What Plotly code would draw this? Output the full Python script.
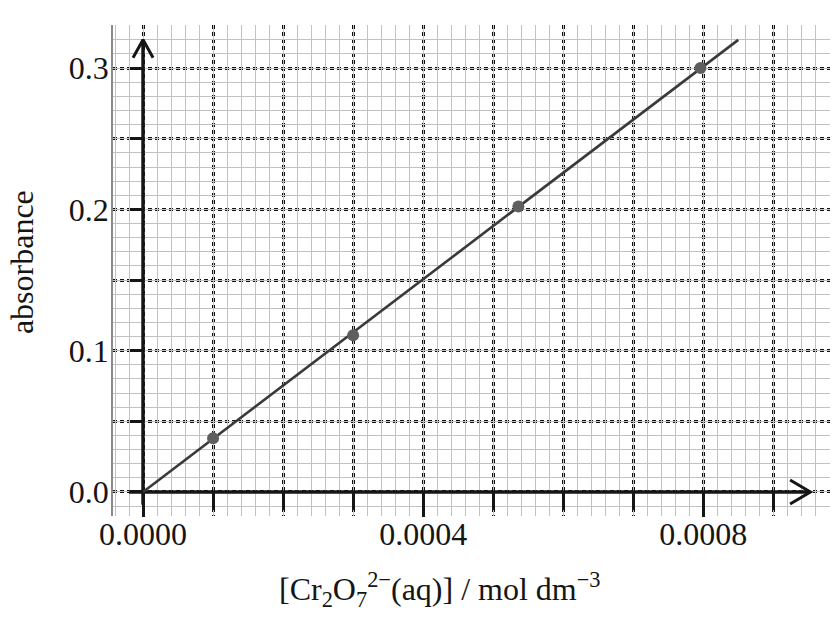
import plotly.graph_objects as go

# ---- data ----
conc = [0.0001, 0.0003, 0.000536, 0.000796]          # mol dm^-3
absorbance = [0.038, 0.111, 0.202, 0.300]
fit_conc = [0.0, 0.00085]                              # drawn best-fit line
fit_abs = [0.0, 0.32]

x_tick_vals = [0.0, 0.0004, 0.0008]
x_tick_text = ["0.0000", "0.0004", "0.0008"]
y_tick_vals = [0.0, 0.1, 0.2, 0.3]
y_tick_text = ["0.0", "0.1", "0.2", "0.3"]

x_title = "[Cr<sub>2</sub>O<sub>7</sub><sup>2\u2212</sup>(aq)] / mol dm<sup>\u22123</sup>"
y_title = "absorbance"

# ---- axis geometry ----
X_RANGE = [-0.0000429, 0.000981]
Y_RANGE = [-0.0170, 0.3305]
x_axis_span = [-0.00002, 0.000953]   # drawn arrow axis extents
y_axis_span = [-0.009, 0.320]

FONT = "Liberation Serif, Times New Roman, serif"
INK = "#151515"

fig = go.Figure()

# fine graph-paper grid via an overlaid axis pair (no visible data)
fig.add_trace(go.Scatter(x=[None], y=[None], xaxis="x2", yaxis="y2",
                         showlegend=False, hoverinfo="skip"))

# axes drawn as arrows
ax_x = x_axis_span
ax_y = y_axis_span
fig.add_trace(go.Scatter(x=ax_x, y=[0, 0], mode="lines",
                         line=dict(color=INK, width=3.5),
                         showlegend=False, hoverinfo="skip"))
fig.add_trace(go.Scatter(x=[0, 0], y=ax_y, mode="lines",
                         line=dict(color=INK, width=3.5),
                         showlegend=False, hoverinfo="skip"))
hx, hy = 0.000029, 0.0085
fig.add_trace(go.Scatter(x=[ax_x[1] - hx, ax_x[1], ax_x[1] - hx],
                         y=[hy, 0, -hy], mode="lines",
                         line=dict(color=INK, width=3),
                         showlegend=False, hoverinfo="skip"))
vx, vy = 0.0000143, 0.0127
fig.add_trace(go.Scatter(x=[-vx, 0, vx], y=[ax_y[1] - vy, ax_y[1], ax_y[1] - vy],
                         mode="lines", line=dict(color=INK, width=3),
                         showlegend=False, hoverinfo="skip"))

# best-fit line and points
fig.add_trace(go.Scatter(x=fit_conc, y=fit_abs, mode="lines",
                         line=dict(color="#3a3a3a", width=2.6),
                         showlegend=False))
fig.add_trace(go.Scatter(x=conc, y=absorbance, mode="markers",
                         marker=dict(color="#5e5e5e", size=12, symbol="circle"),
                         showlegend=False))

x_pos = (0 - Y_RANGE[0]) / (Y_RANGE[1] - Y_RANGE[0])
y_pos = (0 - X_RANGE[0]) / (X_RANGE[1] - X_RANGE[0])

dot = "4px,3px"
GW = 3

fig.update_layout(
    width=835, height=618, autosize=False,
    margin=dict(l=113, r=5, t=25, b=102),
    paper_bgcolor="white", plot_bgcolor="white",
    font=dict(family=FONT, size=32, color=INK),
    xaxis=dict(
        range=X_RANGE, anchor="free", position=x_pos, automargin=False,
        tickmode="array", tickvals=x_tick_vals, ticktext=x_tick_text,
        ticks="outside", ticklen=24, tickwidth=3, tickcolor=INK,
        showline=False, zeroline=False,
        showgrid=True, gridcolor="#111111", gridwidth=GW, griddash=dot,
        tickfont=dict(family=FONT, size=32, color=INK),
        ticklabelstandoff=-10,
        minor=dict(tickmode="linear", tick0=0, dtick=0.0001,
                   ticks="outside", ticklen=17, tickwidth=3, tickcolor=INK,
                   showgrid=True, gridcolor="#111111", gridwidth=GW,
                   griddash=dot),
    ),
    yaxis=dict(
        range=Y_RANGE, anchor="free", position=y_pos, automargin=False,
        tickmode="array", tickvals=y_tick_vals, ticktext=y_tick_text,
        ticks="outside", ticklen=13, tickwidth=3, tickcolor=INK,
        showline=False, zeroline=False,
        showgrid=True, gridcolor="#111111", gridwidth=GW, griddash=dot,
        tickfont=dict(family=FONT, size=32, color=INK),
        ticklabelstandoff=15,
        minor=dict(tickmode="linear", tick0=0, dtick=0.05,
                   ticks="outside", ticklen=13, tickwidth=3, tickcolor=INK,
                   showgrid=True, gridcolor="#111111", gridwidth=GW,
                   griddash=dot),
    ),
    xaxis2=dict(
        range=X_RANGE, overlaying="x", anchor="y2", automargin=False,
        showticklabels=False, ticks="", zeroline=False, showline=False,
        tick0=0, dtick=0.00002, showgrid=True, gridcolor="#c2c2c2", gridwidth=1.3,
    ),
    yaxis2=dict(
        range=Y_RANGE, overlaying="y", anchor="x2", automargin=False,
        showticklabels=False, ticks="", zeroline=False,
        showline=True, linecolor="#8a8a8a", linewidth=1.5,
        tick0=0, dtick=0.01, showgrid=True, gridcolor="#c2c2c2", gridwidth=1.3,
    ),
    annotations=[
        dict(text=x_title, xref="paper", yref="paper", x=0.456, y=-0.150,
             xanchor="center", yanchor="middle", showarrow=False,
             font=dict(family=FONT, size=32, color=INK)),
        dict(text=y_title, xref="paper", yref="paper", x=-0.127, y=0.517,
             xanchor="center", yanchor="middle", showarrow=False, textangle=-90,
             font=dict(family=FONT, size=32, color=INK)),
    ],
)

fig.write_html("out.html",
               config={"displayModeBar": False},
               post_script="document.body.style.margin='0';document.body.style.padding='0';")
